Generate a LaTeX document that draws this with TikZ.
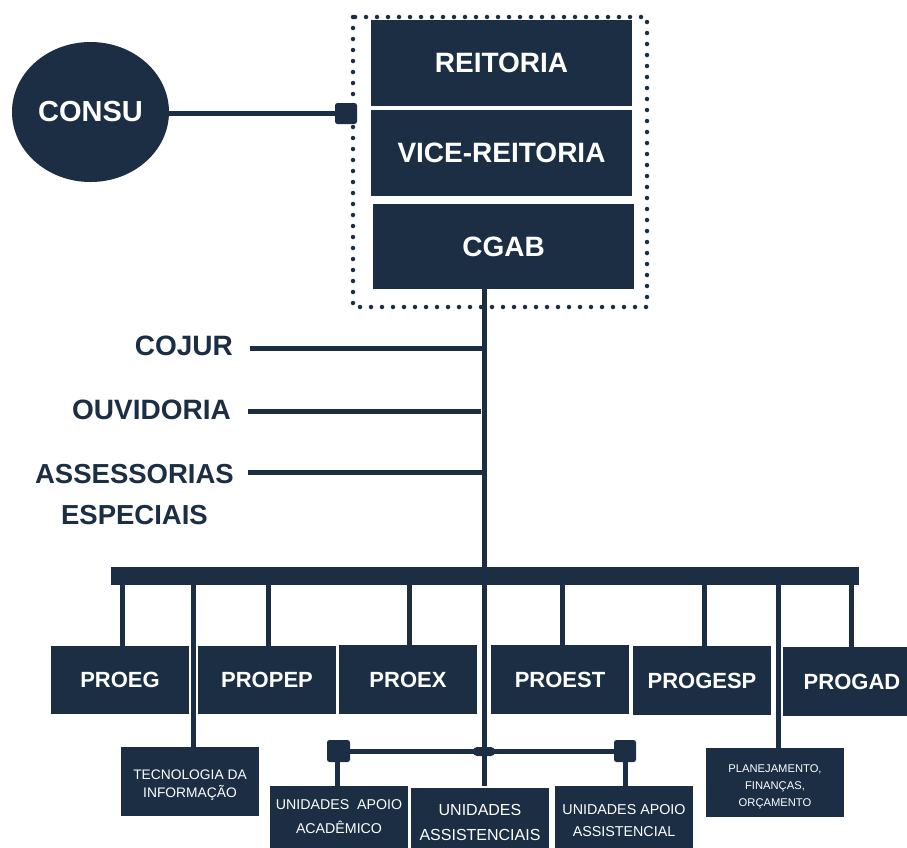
\documentclass[tikz,border=0pt]{standalone}
\usepackage{fontspec}
\setmainfont{Liberation Sans}
\usetikzlibrary{shapes.geometric}
\definecolor{navy}{RGB}{27,46,68}
\begin{document}
\begin{tikzpicture}[x=1pt,y=-1pt,
  box/.style={fill=navy,text=white,inner sep=0pt,minimum width=138pt,minimum height=68pt,font=\bfseries\fontsize{22}{24}\selectfont},
  topbox/.style={fill=navy,text=white,inner sep=0pt,minimum width=261pt,minimum height=86pt,font=\bfseries\fontsize{28}{30}\selectfont},
  smallbox/.style={fill=navy,text=white,inner sep=0pt,minimum width=138pt,minimum height=69pt,align=center},
  smalltxt/.style={text=white,inner sep=0pt,align=center},
  lbl/.style={text=navy,anchor=east,inner sep=0pt,align=center,font=\bfseries\fontsize{28}{41}\selectfont},
  conn/.style={draw=navy,line width=5pt},
  knot/.style={fill=navy,rounded corners=2.5pt,inner sep=0pt,minimum width=22pt,minimum height=22pt}]
\useasboundingbox (0,0) rectangle (907,847);
\fill[white] (0,0) rectangle (907,847);

% coordinates for connector ends
\coordinate (vtop) at (484,289);
\coordinate (vbot) at (484,786);
\coordinate (cojR) at (484,348);
\coordinate (ouvR) at (481,411);
\coordinate (assR) at (484,472);

% CONSU
\node[ellipse,fill=navy,text=white,minimum width=157pt,minimum height=140pt,inner sep=0pt,font=\bfseries\fontsize{29}{31}\selectfont] (consu) at (90.5,112) {CONSU};
\node[knot,minimum height=21pt] (sq) at (346,113.5) {};
\draw[conn] (consu.east |- sq) -- (sq.west);

% dotted frame
\draw[navy,line width=4.5pt,line cap=round,dash pattern=on 0pt off 11pt] (353,17) rectangle (647,307);

% top boxes
\node[topbox] (reit) at (501.5,63) {REITORIA};
\node[topbox] (vice) at (501.5,153) {VICE-REITORIA};
\node[topbox,minimum height=85pt] (cgab) at (503.5,246.5) {CGAB};

% left labels
\node[lbl] (cojur) at (233,346) {COJUR};
\node[lbl] (ouv) at (231,410) {OUVIDORIA};
\node[lbl,font=\bfseries\fontsize{27.5}{41}\selectfont] (ass) at (234,495) {ASSESSORIAS\\ESPECIAIS};
\draw[conn] (250,348) coordinate (cojL) -- (cojR);
\draw[conn] (248,411) coordinate (ouvL) -- (ouvR);
\draw[conn] (248,472) coordinate (assL) -- (assR);

% main vertical
\draw[conn] (vtop) -- (vbot);

% bottom boxes
\node[box] (proeg) at (120,680) {PROEG};
\node[box] (propep) at (267,680) {PROPEP};
\node[box,minimum height=69pt] (proex) at (408,679.5) {PROEX};
\node[box,minimum height=69pt] (proest) at (560,679.5) {PROEST};
\node[box,minimum height=69pt] (progesp) at (702,680.5) {PROGESP};
\node[box,minimum height=69pt] (progad) at (852,681.5) {PROGAD};

\node[smallbox] (ti) at (190,781.5) {};
\node[smalltxt,font=\fontsize{13.8}{18}\selectfont] (tit) at (190,785.5) {TECNOLOGIA DA\\INFORMAÇÃO};
\node[smallbox] (plan) at (775,782.5) {};
\node[smalltxt,font=\fontsize{11.2}{17}\selectfont] (plant) at (775,786.5) {PLANEJAMENTO,\\FINANÇAS,\\ORÇAMENTO};

% bar
\node[fill=navy,inner sep=0pt,minimum width=748pt,minimum height=18pt] (bar) at (485,576) {};

% drops
\draw[conn] (122,585) coordinate (d1) -- (d1 |- proeg.north);
\draw[conn] (193,585) coordinate (d2) -- (d2 |- ti.north);
\draw[conn] (268,585) coordinate (d3) -- (d3 |- propep.north);
\draw[conn] (409,585) coordinate (d4) -- (d4 |- proex.north);
\draw[conn] (562,585) coordinate (d5) -- (d5 |- proest.north);
\draw[conn] (704,585) coordinate (d6) -- (d6 |- progesp.north);
\draw[conn] (778,585) coordinate (d7) -- (d7 |- plan.north);
\draw[conn] (851,585) coordinate (d8) -- (d8 |- progad.north);

% second level
\node[smallbox] (uaa) at (339,820.5) {};
\node[smalltxt,font=\fontsize{14.2}{24}\selectfont] (uaat) at (339,816.5) {UNIDADES\ \ APOIO\\ACADÊMICO};
\node[smallbox,font=\fontsize{16}{25}\selectfont] (ua) at (480,822) {UNIDADES\\ASSISTENCIAIS};
\node[smallbox,font=\fontsize{14.3}{22}\selectfont] (uas) at (624,820.5) {UNIDADES APOIO\\ASSISTENCIAL};

\node[knot,minimum width=23pt] (k1) at (338.5,751) {};
\node[knot] (k2) at (625,751) {};
\draw[conn] (k1.east) -- (k2.west);
\node[fill=navy,rounded corners=4pt,inner sep=0pt,minimum width=22pt,minimum height=9pt] (kj) at (484,751.5) {};
\draw[conn] (k1.south -| uaa.north) ++(-2,0) coordinate (e1) -- (e1 |- uaa.north);
\draw[conn] (k2.south) -- (k2.south |- uas.north);
\end{tikzpicture}
\end{document}
